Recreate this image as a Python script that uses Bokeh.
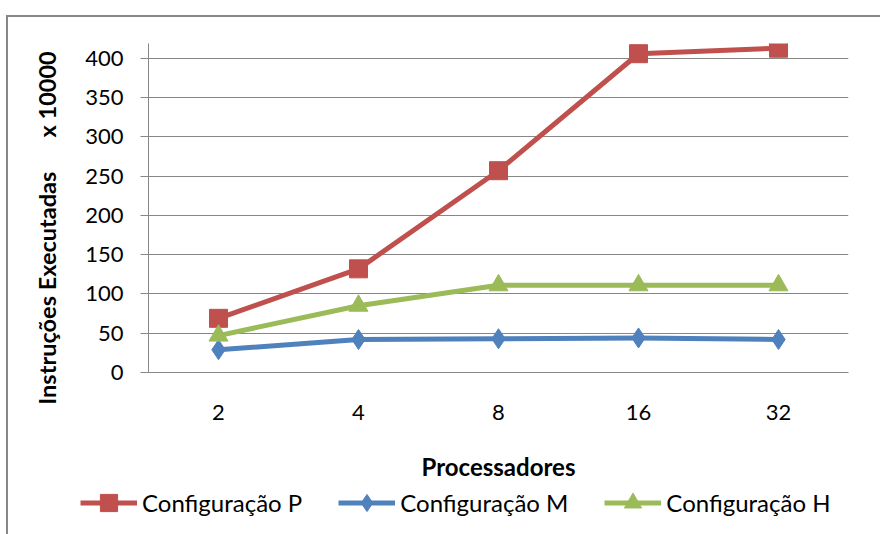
from bokeh.embed import file_html
from bokeh.layouts import column
from bokeh.models import (FactorRange, FixedTicker, Legend, LegendItem,
                          Range1d)
from bokeh.plotting import figure
from bokeh.resources import INLINE

# Data: executed instructions (x 10000) per number of processors
processors = ["2", "4", "8", "16", "32"]
config_p = [69, 132, 257, 406, 413]
config_m = [29, 42, 43, 44, 42]
config_h = [47, 85, 111, 111, 111]
y_ticks = [0, 50, 100, 150, 200, 250, 300, 350, 400]
series_names = ["Configuração P", "Configuração M", "Configuração H"]

RED = "#C0504D"
BLUE = "#4F81BD"
GREEN = "#9BBB59"
GRAY = "#878787"
FONT = "Lato"
NBSP = "\u00a0"

p = figure(
    width=880, height=488,
    x_range=FactorRange(*processors, range_padding=0),
    y_range=Range1d(0, 419),
    output_backend="svg", toolbar_location=None,
    min_border_left=148, min_border_right=32,
    min_border_top=43, min_border_bottom=116,
)
p.outline_line_color = None
p.background_fill_color = "white"
p.border_fill_color = None

# axes
p.yaxis.ticker = FixedTicker(ticks=y_ticks)
p.ygrid.ticker = FixedTicker(ticks=y_ticks)
p.ygrid.grid_line_color = GRAY
p.ygrid.grid_line_width = 1
p.xgrid.grid_line_color = None

for ax in (p.xaxis, p.yaxis):
    ax.axis_line_color = GRAY
    ax.axis_line_width = 1
    ax.major_label_text_font = FONT
    ax.major_label_text_font_size = "22px"
    ax.major_label_text_color = "black"
    ax.minor_tick_line_color = None
    ax.axis_label_text_font = FONT
    ax.axis_label_text_font_style = "bold"
    ax.axis_label_text_font_size = "24px"
    ax.axis_label_text_color = "black"

p.yaxis.major_tick_line_color = GRAY
p.yaxis.major_tick_out = 8
p.yaxis.major_tick_in = 0
p.yaxis.major_label_standoff = 17
# unit note follows the title; trailing padding keeps the words low on the axis
p.yaxis.axis_label = "Instruções Executadas" + NBSP * 6 + "x 10000" + NBSP * 7
p.yaxis.axis_label_text_font_size = "23.5px"
p.yaxis.axis_label_standoff = 21

p.xaxis.major_tick_line_color = None
p.xaxis.major_tick_out = 0
p.xaxis.major_tick_in = 0
p.xaxis.major_label_standoff = 32
p.xaxis.axis_label = "Processadores"
p.xaxis.axis_label_standoff = 29

# series
colors = [RED, BLUE, GREEN]
markers = [("square", 18), ("diamond", 20), ("triangle", 19)]
for values, color, (marker, size) in zip([config_p, config_m, config_h], colors, markers):
    p.line(processors, values, line_color=color, line_width=5, line_join="round")
    p.scatter(processors, values, marker=marker, size=size, color=color)

# legend strip under the chart (its sample glyphs sit outside the visible range)
lg = figure(
    width=880, height=46, x_range=Range1d(0, 1), y_range=Range1d(0, 1),
    output_backend="svg", toolbar_location=None,
    x_axis_type=None, y_axis_type=None,
    min_border_left=0, min_border_right=0, min_border_top=0, min_border_bottom=0,
)
lg.frame_align = False
lg.outline_line_color = None
lg.grid.grid_line_color = None
lg.background_fill_color = None
lg.border_fill_color = None
items = []
for name, color, (marker, _) in zip(series_names, colors, markers):
    ln = lg.line(x=[5, 6], y=[5, 5], line_color=color, line_width=5)
    mk = lg.scatter(x=[5], y=[5], marker=marker, color=color)
    items.append(LegendItem(label=name, renderers=[ln, mk]))

legend = Legend(
    items=items,
    orientation="horizontal",
    location=(80, 10),
    glyph_width=57, glyph_height=43, label_height=43,
    label_standoff=5, spacing=36, padding=0, margin=0,
    border_line_color=None, background_fill_alpha=0,
    label_text_font=FONT, label_text_font_size="24px",
    label_text_color="black",
)
lg.add_layout(legend)

# gray rules along the top and left edges of the chart area, painted behind the canvases
layout = column(p, lg, spacing=0, styles={
    "background-color": "white",
    "background-image": f"linear-gradient({GRAY}, {GRAY}), linear-gradient({GRAY}, {GRAY})",
    "background-size": "2px 519px, 874px 2px",
    "background-position": "6px 15px, 6px 15px",
    "background-repeat": "no-repeat",
})

open("out.html", "w").write(file_html(layout, INLINE))
